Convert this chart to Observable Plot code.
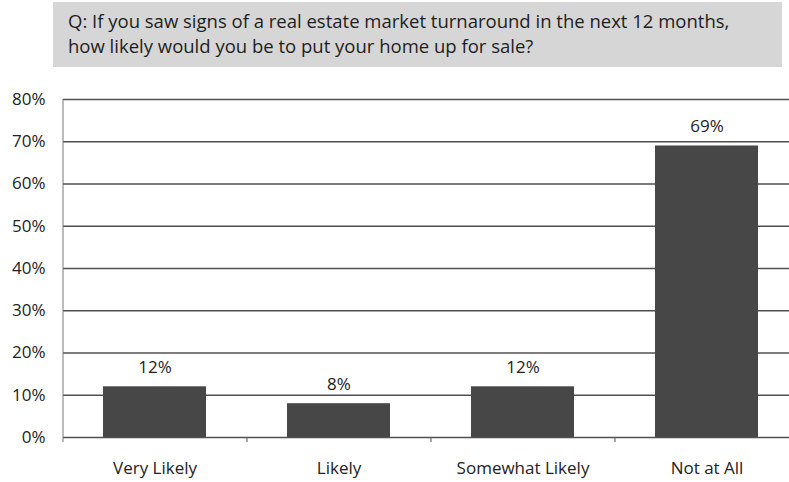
<!DOCTYPE html>
<html>
<head>
<meta charset="utf-8">
<script src="https://cdn.jsdelivr.net/npm/d3@7"></script>
<script src="https://cdn.jsdelivr.net/npm/@observablehq/plot@0.6"></script>
<style>
  html, body { margin: 0; padding: 0; background: #fff; overflow: hidden; }
  #wrap { width: 789px; height: 482px; position: relative; overflow: hidden; font-family: "Open Sans", sans-serif; }
  #title {
    position: absolute; left: 53px; top: 2px; width: 729px; height: 65px;
    background: #d6d6d6; color: #1e1e1e;
    font-family: "Open Sans", sans-serif; font-size: 18.5px; line-height: 25px;
    box-sizing: border-box; padding: 6px 0 0 15px; white-space: nowrap;
  }
  #chart { position: absolute; left: 0; top: 80px; }
</style>
</head>
<body>
<div id="wrap">
  <div id="title"></div>
  <div id="chart"></div>
</div>
<script>
const titleLines = ["Q: If you saw signs of a real estate market turnaround in the next 12 months,", "how likely would you be to put your home up for sale?"];
const categories = ["Very Likely", "Likely", "Somewhat Likely", "Not at All"];
const values = [0.12, 0.08, 0.12, 0.69];
const valueLabels = ["12%", "8%", "12%", "69%"];
const yTicks = [0, 0.1, 0.2, 0.3, 0.4, 0.5, 0.6, 0.7, 0.8];

const titleEl = document.getElementById("title");
titleLines.forEach((l, i) => { if (i) titleEl.appendChild(document.createElement("br")); titleEl.appendChild(document.createTextNode(l)); });

const data = categories.map((c, i) => ({category: c, value: values[i], label: valueLabels[i]}));

const W = 789, H = 402, mL = 63, mR = -10;
const step = (W - mL - mR) / categories.length;

const plot = Plot.plot({
  width: W,
  height: H,
  marginLeft: mL,
  marginRight: mR,
  marginTop: 19,
  marginBottom: 45,
  style: {background: "transparent", fontFamily: "Open Sans, sans-serif", overflow: "visible"},
  x: {domain: categories, padding: 0.44, label: null, tickSize: 0, tickPadding: 24, paddingOuter: 0.22},
  y: {domain: [0, 0.8], ticks: yTicks, tickFormat: d3.format(".0%"), label: null, tickSize: 0, tickPadding: 18},
  marks: [
    Plot.ruleY(yTicks, {stroke: "#505050", strokeWidth: 1.3}),
    Plot.ruleX(categories.slice(1), {y1: 0, y2: -0.012, dx: -step / 2, stroke: "#555"}),
    Plot.ruleX([categories[0]], {y1: 0.8, y2: -0.012, dx: -step / 2, stroke: "#777"}),
    Plot.barY(data, {x: "category", y: "value", fill: "#474747"}),
    Plot.text(data, {x: "category", y: "value", text: "label", dy: -19, fontSize: 17, fill: "#222"})
  ]
});
plot.querySelectorAll('g[aria-label="y-axis tick label"], g[aria-label="x-axis tick label"]').forEach(g => { g.setAttribute("font-size", "17"); g.setAttribute("fill", "#222"); });
document.getElementById("chart").appendChild(plot);
</script>
</body>
</html>
